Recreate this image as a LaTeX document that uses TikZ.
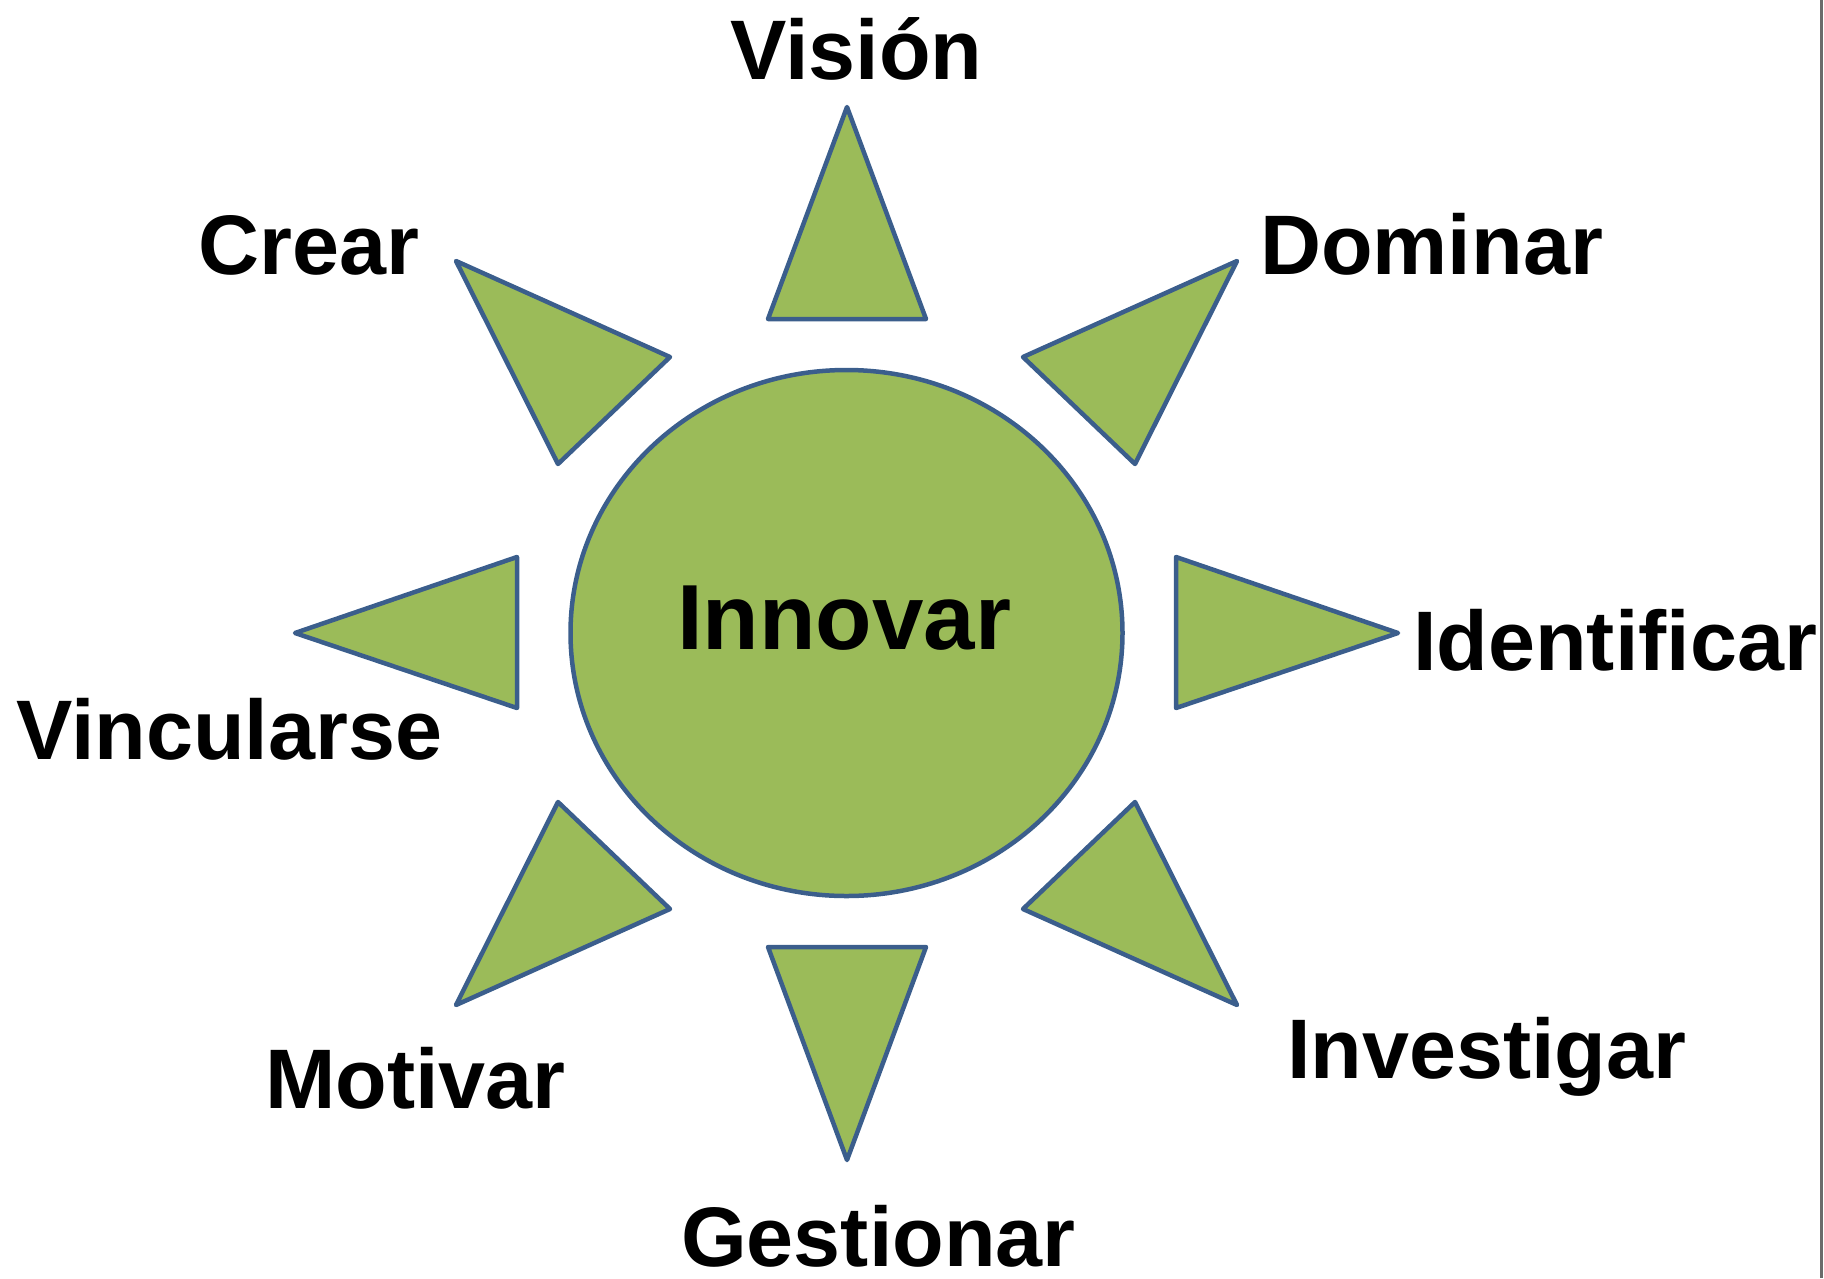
\documentclass[tikz,border=0pt]{standalone}
\usepackage{fontspec}
\setmainfont{Liberation Sans}
\definecolor{rayfill}{HTML}{9BBB59}
\definecolor{rayline}{HTML}{3B5E8C}
\definecolor{edgegray}{HTML}{6B6B6B}
\begin{document}
\begin{tikzpicture}[x=1pt,y=-1pt,
  ray/.style={fill=rayfill, draw=rayline, line width=4.5pt, line join=round},
  lbl/.style={font=\bfseries\fontsize{84.5}{90}\selectfont, inner sep=0pt, anchor=base west},
  biglbl/.style={font=\bfseries\fontsize{92.5}{100}\selectfont, inner sep=0pt, anchor=base west}]
\useasboundingbox (0,0) rectangle (1824,1278);
% central circle
\draw[ray] (846.5,633) ellipse [x radius=276pt, y radius=263pt];
\node[biglbl] (innovar) at (677,649) {Innovar};
% rays
\draw[ray] (847,107) -- (926,319) -- (768,319) -- cycle;            % top
\draw[ray] (847,1160) -- (926,947) -- (768,947) -- cycle;           % bottom
\draw[ray] (1398,633) -- (1176,557) -- (1176,708) -- cycle;         % right
\draw[ray] (295,633) -- (517,557) -- (517,708) -- cycle;            % left
\draw[ray] (456,261) -- (670,357) -- (558,464) -- cycle;            % upper left
\draw[ray] (1237,261) -- (1023,357) -- (1135,464) -- cycle;         % upper right
\draw[ray] (456,1005) -- (670,909) -- (558,802) -- cycle;           % lower left
\draw[ray] (1237,1005) -- (1023,909) -- (1135,802) -- cycle;        % lower right
% labels
\node[lbl] (vision) at (730,79) {Visión};
\node[lbl] (crear) at (198,274.5) {Crear};
\node[lbl] (dominar) at (1260,274.5) {Dominar};
\node[lbl] (identificar) at (1413,670) {Identificar};
\node[lbl] (vincularse) at (16,759.5) {Vincularse};
\node[lbl] (motivar) at (265,1108.5) {Motivar};
\node[lbl] (investigar) at (1287,1078.5) {Investigar};
\node[lbl] (gestionar) at (681,1266) {Gestionar};
% right page edge
\fill[white] (1819,0) rectangle (1824,1278);
\draw[edgegray, line width=3pt] (1821.5,0) -- (1821.5,1278);
\end{tikzpicture}
\end{document}
